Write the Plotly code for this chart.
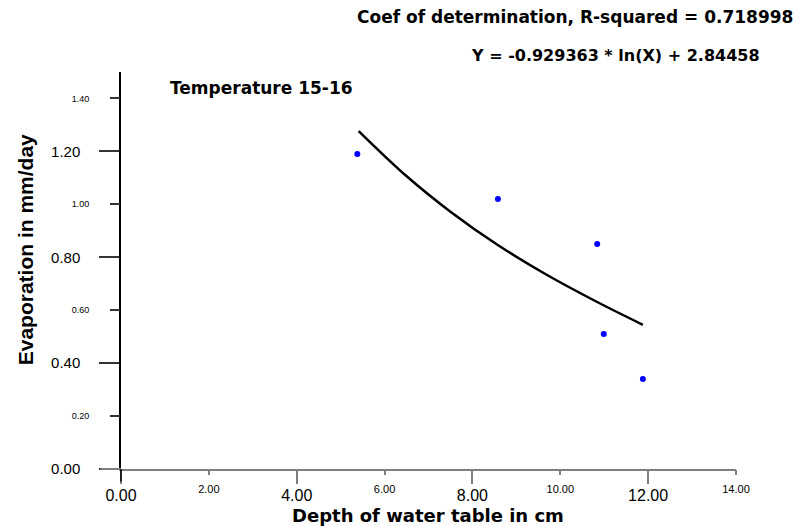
import plotly.graph_objects as go

depth_cm = [5.38, 8.58, 10.84, 10.99, 11.88]
evap_mm_day = [1.19, 1.02, 0.85, 0.51, 0.34]

# Fitted curve, points
fit_x = [5.41, 6.51, 7.50, 8.56, 9.70, 10.84, 11.88]
fit_y = [1.277, 1.105, 0.972, 0.848, 0.733, 0.631, 0.545]

x_major = [0, 4, 8, 12]
x_minor = [2, 6, 10, 14]
y_major = [0.0, 0.4, 0.8, 1.2]
y_minor = [0.2, 0.6, 1.0, 1.4]

title_r2 = "Coef of determination, R-squared = 0.718998"
title_eq = "Y = -0.929363 * ln(X) + 2.84458"
label_temp = "Temperature 15-16"
x_title = "Depth of water table in cm"
y_title = "Evaporation in mm/day"

FONT = "Arial, Liberation Sans, sans-serif"
WIDE = "DejaVu Sans, Verdana, sans-serif"

W, H = 800, 518          # page body has an 8px margin in the 808x526 window
OFF = 8
L, R, T, B = 112.5, 72.3, 64, 56.5
pw = W - L - R
ph = H - T - B


def px(xs):
    return (xs - OFF - L) / pw


def py(ys):
    return ((H - (ys - OFF)) - B) / ph


fig = go.Figure()
fig.add_trace(go.Scatter(x=fit_x, y=fit_y, mode="lines",
                         line=dict(color="black", width=2.5, shape="spline", smoothing=1.0),
                         xaxis="x2", yaxis="y2", showlegend=False, hoverinfo="skip"))
fig.add_trace(go.Scatter(x=depth_cm, y=evap_mm_day, mode="markers",
                         marker=dict(color="#0000FF", size=6, line=dict(width=0)),
                         showlegend=False))

fig.update_layout(
    width=W, height=H,
    margin=dict(l=L, r=R, t=T, b=B, autoexpand=False),
    paper_bgcolor="white", plot_bgcolor="white",
    font=dict(family=FONT, color="black"),
    xaxis=dict(range=[0, 14], tickvals=x_major, ticktext=[f"{v:.2f}" for v in x_major],
               ticks="outside", ticklen=13, tickwidth=2, tickcolor="#7f7f7f",
               showline=True, linecolor="#7f7f7f", linewidth=2,
               showgrid=False, zeroline=False, tickfont=dict(size=16, family=FONT),
               ticklabelstandoff=-2, anchor="y"),
    xaxis2=dict(range=[0, 14], overlaying="x", anchor="y2", side="bottom",
                tickvals=x_minor, ticktext=[f"{v:.2f}" for v in x_minor],
                ticks="outside", ticklen=5, tickwidth=1.5, tickcolor="#7f7f7f",
                showline=False, showgrid=False, zeroline=False,
                tickfont=dict(size=11, family=FONT), ticklabelstandoff=5),
    yaxis=dict(range=[0, 1.5], tickvals=y_major, ticktext=[f"{v:.2f}" for v in y_major],
               ticks="outside", ticklen=20, tickwidth=1.5, tickcolor="#333333",
               showline=True, linecolor="black", linewidth=1.5,
               showgrid=False, zeroline=False, tickfont=dict(size=15, family=FONT),
               ticklabelstandoff=16, anchor="x"),
    yaxis2=dict(range=[0, 1.5], overlaying="y", anchor="x2", side="left",
                tickvals=y_minor, ticktext=[f"{v:.2f}" for v in y_minor],
                ticks="outside", ticklen=10, tickwidth=1.5, tickcolor="#333333",
                showline=False, showgrid=False, zeroline=False,
                tickfont=dict(size=9, family=FONT), ticklabelstandoff=19),
)

# axis extensions beyond the origin
fig.add_shape(type="line", xref="paper", yref="paper", x0=px(100), x1=0, y0=0, y1=0,
              line=dict(color="#7f7f7f", width=2))
fig.add_shape(type="line", xref="paper", yref="paper", x0=0, x1=0, y0=py(482), y1=0,
              line=dict(color="black", width=1.5))

fig.add_annotation(text=f"<b>{title_r2}</b>", xref="paper", yref="paper",
                   x=px(795), y=py(17), xanchor="right", yanchor="middle",
                   showarrow=False, font=dict(size=17, family=WIDE))
fig.add_annotation(text=f"<b>{title_eq}</b>", xref="paper", yref="paper",
                   x=px(762), y=py(55), xanchor="right", yanchor="middle",
                   showarrow=False, font=dict(size=16, family=WIDE))
fig.add_annotation(text=f"<b>{label_temp}</b>", xref="paper", yref="paper",
                   x=px(168), y=py(88), xanchor="left", yanchor="middle",
                   showarrow=False, font=dict(size=17, family=WIDE))
fig.add_annotation(text=f"<b>{x_title}</b>", xref="paper", yref="paper",
                   x=px(428), y=py(516), xanchor="center", yanchor="middle",
                   showarrow=False, font=dict(size=18, family=WIDE))
fig.add_annotation(text=f"<b>{y_title}</b>", xref="paper", yref="paper",
                   x=px(25), y=py(250), xanchor="center", yanchor="middle",
                   textangle=-90, showarrow=False, font=dict(size=21, family=FONT))

fig.write_html("out.html")
